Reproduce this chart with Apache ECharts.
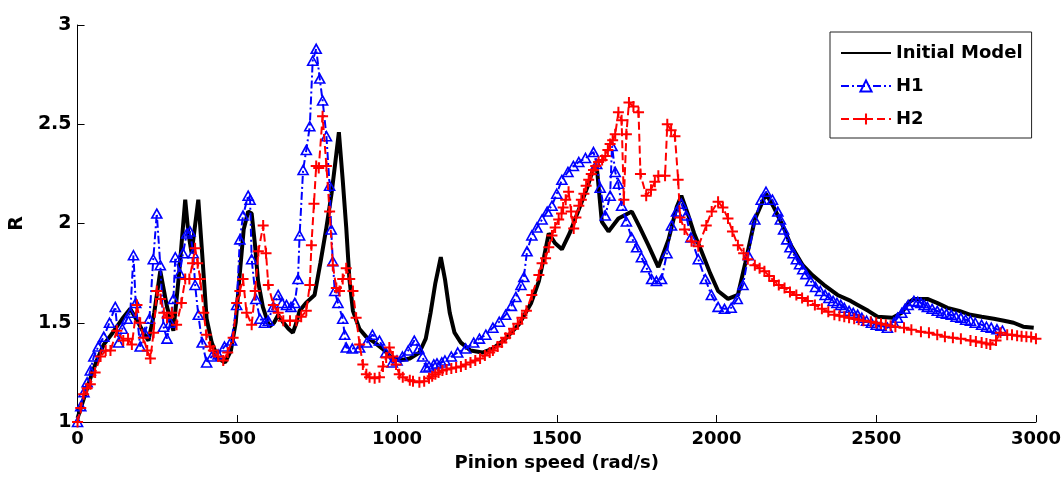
<!DOCTYPE html>
<html>
<head>
<meta charset="utf-8">
<script src="https://cdn.jsdelivr.net/npm/echarts@6/dist/echarts.min.js"></script>
<style>
html,body{margin:0;padding:0;background:#fff;}
#c{width:1064px;height:477px;}
</style>
</head>
<body>
<div id="c"></div>
<script>
var seriesNames = ['Initial Model', 'H1', 'H2'];
var xTicks = [0, 500, 1000, 1500, 2000, 2500, 3000];
var yTicks = [1, 1.5, 2, 2.5, 3];

var initialModel = [
[0,1.02],[20,1.12],[40,1.22],[60,1.31],[82,1.39],[110,1.45],[140,1.52],[165,1.57],[190,1.50],[210,1.44],[222,1.41],[240,1.55],[259,1.76],[280,1.58],[300,1.46],[318,1.75],[337,2.12],[347,1.95],[357,1.85],[367,1.98],[378,2.12],[390,1.85],[404,1.52],[420,1.40],[440,1.32],[462,1.30],[480,1.36],[495,1.50],[508,1.75],[520,1.97],[534,2.06],[545,2.05],[555,1.90],[565,1.71],[580,1.58],[600,1.48],[615,1.50],[628,1.54],[645,1.50],[660,1.47],[674,1.45],[685,1.50],[695,1.56],[715,1.60],[742,1.64],[760,1.80],[778,1.97],[795,2.15],[810,2.35],[818,2.46],[830,2.22],[841,1.98],[851,1.72],[862,1.56],[882,1.47],[903,1.43],[930,1.40],[954,1.37],[980,1.33],[1007,1.31],[1040,1.32],[1070,1.35],[1090,1.42],[1105,1.55],[1120,1.70],[1137,1.83],[1150,1.72],[1165,1.55],[1180,1.45],[1200,1.40],[1230,1.36],[1267,1.35],[1300,1.37],[1340,1.42],[1381,1.49],[1420,1.60],[1444,1.71],[1460,1.83],[1475,1.95],[1495,1.90],[1516,1.87],[1540,1.95],[1569,2.07],[1595,2.18],[1615,2.28],[1625,2.29],[1641,2.01],[1662,1.96],[1693,2.025],[1735,2.06],[1760,1.98],[1787,1.89],[1818,1.78],[1850,1.92],[1875,2.08],[1890,2.14],[1910,2.05],[1930,1.95],[1953,1.86],[1980,1.75],[2005,1.66],[2036,1.62],[2067,1.64],[2090,1.80],[2120,2.02],[2155,2.15],[2180,2.08],[2210,1.98],[2233,1.89],[2270,1.79],[2300,1.74],[2337,1.69],[2379,1.64],[2420,1.61],[2442,1.59],[2475,1.56],[2504,1.53],[2551,1.525],[2580,1.55],[2600,1.60],[2618,1.62],[2660,1.62],[2690,1.60],[2723,1.575],[2760,1.56],[2795,1.54],[2830,1.53],[2868,1.52],[2900,1.51],[2930,1.50],[2960,1.48],[2993,1.475]
];

var h1 = [
[0,1.00],[10,1.08],[20,1.15],[30,1.20],[40,1.26],[51,1.33],[65,1.38],[82,1.43],[100,1.50],[118,1.58],[128,1.40],[140,1.47],[155,1.52],[165,1.55],[175,1.84],[182,1.60],[196,1.38],[210,1.45],[225,1.52],[237,1.82],[248,2.05],[259,1.79],[269,1.48],[280,1.42],[290,1.50],[300,1.62],[306,1.83],[320,1.75],[330,1.85],[342,1.95],[352,1.96],[362,1.85],[368,1.69],[378,1.54],[390,1.40],[404,1.30],[420,1.33],[440,1.34],[460,1.38],[482,1.41],[498,1.59],[508,1.92],[518,2.04],[534,2.14],[540,2.12],[545,1.82],[558,1.62],[571,1.52],[585,1.50],[597,1.51],[612,1.58],[628,1.64],[640,1.60],[654,1.59],[668,1.58],[680,1.60],[690,1.72],[695,1.94],[706,2.27],[716,2.37],[727,2.49],[736,2.82],[747,2.88],[758,2.73],[767,2.62],[779,2.44],[789,2.19],[794,1.97],[799,1.81],[805,1.66],[815,1.60],[830,1.52],[836,1.44],[841,1.375],[860,1.37],[883,1.375],[905,1.40],[923,1.44],[945,1.41],[965,1.35],[985,1.30],[1000,1.31],[1017,1.33],[1035,1.36],[1054,1.41],[1068,1.37],[1080,1.33],[1090,1.275],[1100,1.28],[1115,1.29],[1125,1.295],[1140,1.30],[1150,1.31],[1170,1.33],[1190,1.35],[1215,1.37],[1240,1.40],[1258,1.42],[1278,1.44],[1300,1.475],[1320,1.505],[1340,1.54],[1358,1.585],[1372,1.63],[1388,1.69],[1397,1.73],[1407,1.86],[1422,1.94],[1438,1.98],[1454,2.02],[1470,2.06],[1485,2.09],[1500,2.15],[1516,2.22],[1535,2.26],[1552,2.29],[1569,2.31],[1590,2.33],[1615,2.36],[1625,2.30],[1636,2.18],[1652,2.04],[1667,2.14],[1673,2.39],[1683,2.26],[1693,2.20],[1703,2.09],[1718,2.01],[1734,1.93],[1750,1.88],[1765,1.83],[1780,1.78],[1797,1.72],[1812,1.71],[1828,1.72],[1845,1.85],[1859,1.99],[1875,2.06],[1890,2.10],[1905,2.04],[1920,1.93],[1943,1.82],[1965,1.72],[1984,1.64],[2005,1.58],[2025,1.57],[2046,1.575],[2065,1.62],[2083,1.69],[2100,1.84],[2120,2.02],[2140,2.12],[2155,2.16],[2175,2.12],[2192,2.06],[2200,2.02],[2210,1.97],[2220,1.92],[2230,1.88],[2240,1.85],[2250,1.82],[2260,1.795],[2270,1.77],[2280,1.745],[2295,1.71],[2310,1.68],[2325,1.66],[2340,1.64],[2352,1.625],[2365,1.61],[2377,1.60],[2389,1.59],[2400,1.575],[2415,1.56],[2428,1.55],[2442,1.54],[2455,1.525],[2470,1.51],[2485,1.50],[2500,1.49],[2515,1.485],[2535,1.475],[2555,1.50],[2567,1.525],[2580,1.55],[2590,1.57],[2600,1.59],[2618,1.61],[2630,1.605],[2640,1.60],[2650,1.59],[2660,1.58],[2675,1.57],[2691,1.56],[2705,1.55],[2720,1.545],[2735,1.54],[2750,1.53],[2765,1.525],[2780,1.515],[2795,1.51],[2810,1.50],[2830,1.49],[2845,1.48],[2860,1.475],[2878,1.467],[2895,1.46]
];

var h2 = [
[0,1.00],[10,1.07],[19,1.14],[30,1.17],[40,1.19],[55,1.25],[72,1.33],[88,1.36],[103,1.36],[123,1.46],[143,1.41],[158,1.42],[170,1.39],[186,1.59],[196,1.50],[206,1.425],[218,1.36],[228,1.32],[238,1.45],[248,1.66],[260,1.62],[270,1.55],[280,1.525],[295,1.55],[310,1.49],[325,1.60],[337,1.72],[350,1.72],[360,1.80],[368,1.875],[376,1.80],[384,1.72],[395,1.55],[403,1.44],[415,1.38],[425,1.36],[440,1.33],[456,1.31],[470,1.35],[487,1.425],[498,1.60],[508,1.66],[518,1.72],[529,1.55],[545,1.49],[556,1.66],[566,1.86],[581,1.99],[590,1.85],[597,1.69],[613,1.59],[628,1.55],[644,1.51],[665,1.51],[685,1.51],[700,1.53],[716,1.56],[727,1.69],[732,1.89],[740,2.10],[747,2.29],[755,2.28],[767,2.54],[779,2.29],[789,2.06],[799,1.79],[810,1.675],[820,1.66],[830,1.72],[841,1.775],[852,1.72],[862,1.66],[872,1.525],[883,1.39],[893,1.29],[904,1.24],[914,1.225],[930,1.22],[945,1.225],[956,1.28],[966,1.325],[976,1.375],[987,1.33],[997,1.29],[1007,1.24],[1018,1.225],[1040,1.21],[1050,1.205],[1070,1.20],[1085,1.205],[1100,1.22],[1110,1.23],[1120,1.24],[1130,1.25],[1142,1.26],[1155,1.265],[1170,1.27],[1185,1.275],[1200,1.28],[1215,1.29],[1230,1.30],[1245,1.31],[1260,1.32],[1275,1.335],[1290,1.35],[1300,1.36],[1315,1.38],[1328,1.40],[1340,1.425],[1352,1.445],[1365,1.47],[1378,1.495],[1391,1.525],[1405,1.56],[1422,1.64],[1444,1.74],[1454,1.80],[1465,1.825],[1475,1.88],[1485,1.94],[1495,1.98],[1506,2.02],[1515,2.05],[1520,2.08],[1528,2.12],[1537,2.16],[1545,2.06],[1553,1.975],[1560,2.03],[1569,2.09],[1577,2.12],[1585,2.15],[1592,2.19],[1600,2.22],[1608,2.25],[1615,2.27],[1622,2.29],[1631,2.31],[1642,2.32],[1652,2.34],[1660,2.37],[1667,2.40],[1675,2.42],[1683,2.45],[1693,2.56],[1703,2.52],[1710,2.12],[1718,2.45],[1726,2.61],[1740,2.59],[1756,2.56],[1762,2.25],[1780,2.14],[1795,2.17],[1807,2.21],[1818,2.24],[1839,2.24],[1846,2.50],[1858,2.47],[1870,2.44],[1880,2.22],[1886,2.03],[1900,1.97],[1922,1.91],[1943,1.885],[1968,1.99],[1985,2.06],[2005,2.11],[2020,2.08],[2036,2.025],[2050,1.96],[2067,1.89],[2085,1.85],[2098,1.82],[2120,1.79],[2135,1.775],[2150,1.76],[2165,1.735],[2180,1.71],[2195,1.69],[2213,1.675],[2230,1.655],[2250,1.64],[2268,1.625],[2286,1.61],[2308,1.59],[2330,1.57],[2350,1.555],[2369,1.54],[2385,1.535],[2400,1.53],[2415,1.525],[2431,1.52],[2445,1.515],[2460,1.51],[2483,1.505],[2500,1.50],[2515,1.495],[2530,1.49],[2545,1.485],[2560,1.48],[2587,1.475],[2610,1.465],[2640,1.455],[2665,1.45],[2691,1.44],[2715,1.43],[2740,1.425],[2765,1.42],[2795,1.41],[2812,1.405],[2830,1.40],[2845,1.395],[2857,1.39],[2875,1.41],[2889,1.45],[2910,1.44],[2925,1.44],[2941,1.435],[2955,1.432],[2970,1.43],[2985,1.428],[3000,1.42]
];

var FONT = 'DejaVu Sans';
var plusPath = 'path://M4.5,0 H6.5 V4.5 H11 V6.5 H6.5 V11 H4.5 V6.5 H0 V4.5 H4.5 Z';

var chart = echarts.init(document.getElementById('c'), null, {renderer: 'canvas'});
chart.setOption({
  animation: false,
  backgroundColor: '#ffffff',
  grid: {left: 77, right: 25, top: 25, bottom: 52, containLabel: false},
  legend: {
    orient: 'vertical',
    left: 830,
    top: 32,
    padding: [12, 9, 10, 10],
    itemGap: 15,
    itemWidth: 50,
    itemHeight: 14,
    borderColor: '#222',
    borderWidth: 1,
    backgroundColor: '#fff',
    data: seriesNames,
    textStyle: {fontFamily: FONT, fontWeight: 'bold', fontSize: 18, color: '#000', padding: [0,0,0,0]}
  },
  xAxis: {
    type: 'value',
    min: xTicks[0],
    max: xTicks[xTicks.length - 1],
    interval: 500,
    name: 'Pinion speed (rad/s)',
    nameLocation: 'middle',
    nameGap: 32,
    nameTextStyle: {fontFamily: FONT, fontWeight: 'bold', fontSize: 18, color: '#000'},
    axisLine: {show: true, lineStyle: {color: '#000', width: 1}},
    axisTick: {show: true, inside: true, length: 7, lineStyle: {color: '#000'}},
    axisLabel: {fontFamily: FONT, fontWeight: 'bold', fontSize: 18, color: '#000', margin: 8,
      formatter: function (v) { return String(v); }},
    splitLine: {show: false}
  },
  yAxis: {
    type: 'value',
    min: yTicks[0],
    max: yTicks[yTicks.length - 1],
    interval: 0.5,
    name: 'R',
    nameLocation: 'middle',
    nameGap: 44,
    nameRotate: 90,
    nameTextStyle: {fontFamily: FONT, fontWeight: 'bold', fontSize: 19, color: '#000'},
    axisLine: {show: true, lineStyle: {color: '#000', width: 1}},
    axisTick: {show: true, inside: true, length: 7, lineStyle: {color: '#000'}},
    axisLabel: {fontFamily: FONT, fontWeight: 'bold', fontSize: 19, color: '#000', margin: 6,
      formatter: function (v) { return String(v); }},
    splitLine: {show: false}
  },
  series: [
    {
      name: seriesNames[0],
      type: 'line',
      data: initialModel,
      symbol: 'circle',
      symbolSize: 0,
      showSymbol: false,
      color: '#000',
      itemStyle: {color: 'rgba(0,0,0,0)', borderColor: 'rgba(0,0,0,0)', borderWidth: 0},
      lineStyle: {color: '#000', width: 4},
      z: 2
    },
    {
      name: seriesNames[1],
      type: 'line',
      data: h1,
      symbol: 'triangle',
      symbolSize: [10, 9],
      color: '#0000ff',
      itemStyle: {color: 'rgba(255,255,255,0)', borderColor: '#0000ff', borderWidth: 1.6},
      lineStyle: {color: '#0000ff', width: 2, type: [8, 3, 2, 3]},
      z: 3
    },
    {
      name: seriesNames[2],
      type: 'line',
      data: h2,
      symbol: plusPath,
      symbolSize: 11,
      color: '#ff0000',
      itemStyle: {color: '#ff0000', borderWidth: 0},
      lineStyle: {color: '#ff0000', width: 2, type: [8, 4]},
      z: 4
    }
  ]
});
</script>
</body>
</html>
